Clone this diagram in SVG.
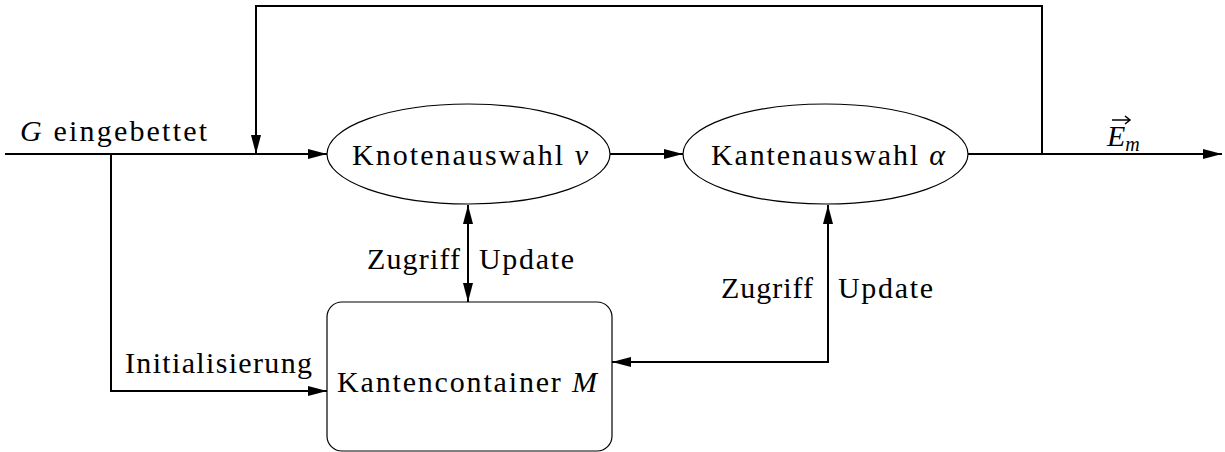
<svg xmlns="http://www.w3.org/2000/svg" width="1225" height="452" viewBox="0 0 1225 452">
<style>
.t{font-family:"Liberation Serif","DejaVu Serif",serif;font-size:30px;fill:#000}
.i{font-style:italic}
.ln{fill:none;stroke:#000;stroke-width:2}
.nd{fill:#fff;stroke:#000;stroke-width:1.2}
</style>
<defs>
<marker id="ah" markerWidth="20" markerHeight="12" refX="19" refY="6" orient="auto-start-reverse" markerUnits="userSpaceOnUse">
<path d="M0,1 L19,6 L0,11 Z" fill="#000"/>
</marker>
</defs>
<rect width="1225" height="452" fill="#fff"/>
<g id="connectors">
<path class="ln" d="M5,154 L327,154" marker-end="url(#ah)"/>
<path class="ln" d="M1042,154 L1042,6 L256,6 L256,154" marker-end="url(#ah)"/>
<path class="ln" d="M610,154 L683,154" marker-end="url(#ah)"/>
<path class="ln" d="M968,154 L1222,154" marker-end="url(#ah)"/>
<path class="ln" d="M111,154 L111,391 L327,391" marker-end="url(#ah)"/>
<path class="ln" d="M468,205 L468,302" marker-start="url(#ah)" marker-end="url(#ah)"/>
<path class="ln" d="M612,362 L828,362 L828,205" marker-start="url(#ah)" marker-end="url(#ah)"/>
<text class="t" x="20" y="141" textLength="187"><tspan class="i">G</tspan> eingebettet</text>
<text class="t" x="1107" y="146"><tspan class="i">E</tspan><tspan class="i" font-size="20" dy="5">m</tspan></text>
<path d="M1112,120 L1129,120 M1125,116 L1130,120 L1125,124" fill="none" stroke="#000" stroke-width="1.5"/>
<text class="t" x="367" y="269" textLength="93">Zugriff</text>
<text class="t" x="479" y="269" textLength="95">Update</text>
<text class="t" x="721" y="298" textLength="92">Zugriff</text>
<text class="t" x="838" y="298" textLength="95">Update</text>
<text class="t" x="125" y="373" textLength="187">Initialisierung</text>
</g>
<g id="knotenauswahl">
<ellipse class="nd" cx="468.5" cy="154" rx="141.5" ry="50"/>
<text class="t" x="352" y="165" textLength="236">Knotenauswahl <tspan class="i">ν</tspan></text>
</g>
<g id="kantenauswahl">
<ellipse class="nd" cx="825.5" cy="154" rx="142.5" ry="50"/>
<text class="t" x="711" y="165" textLength="234">Kantenauswahl <tspan class="i">α</tspan></text>
</g>
<g id="kantencontainer">
<rect class="nd" x="327" y="302" width="285" height="149" rx="15"/>
<text class="t" x="337" y="392" textLength="260">Kantencontainer <tspan class="i">M</tspan></text>
</g>
</svg>
